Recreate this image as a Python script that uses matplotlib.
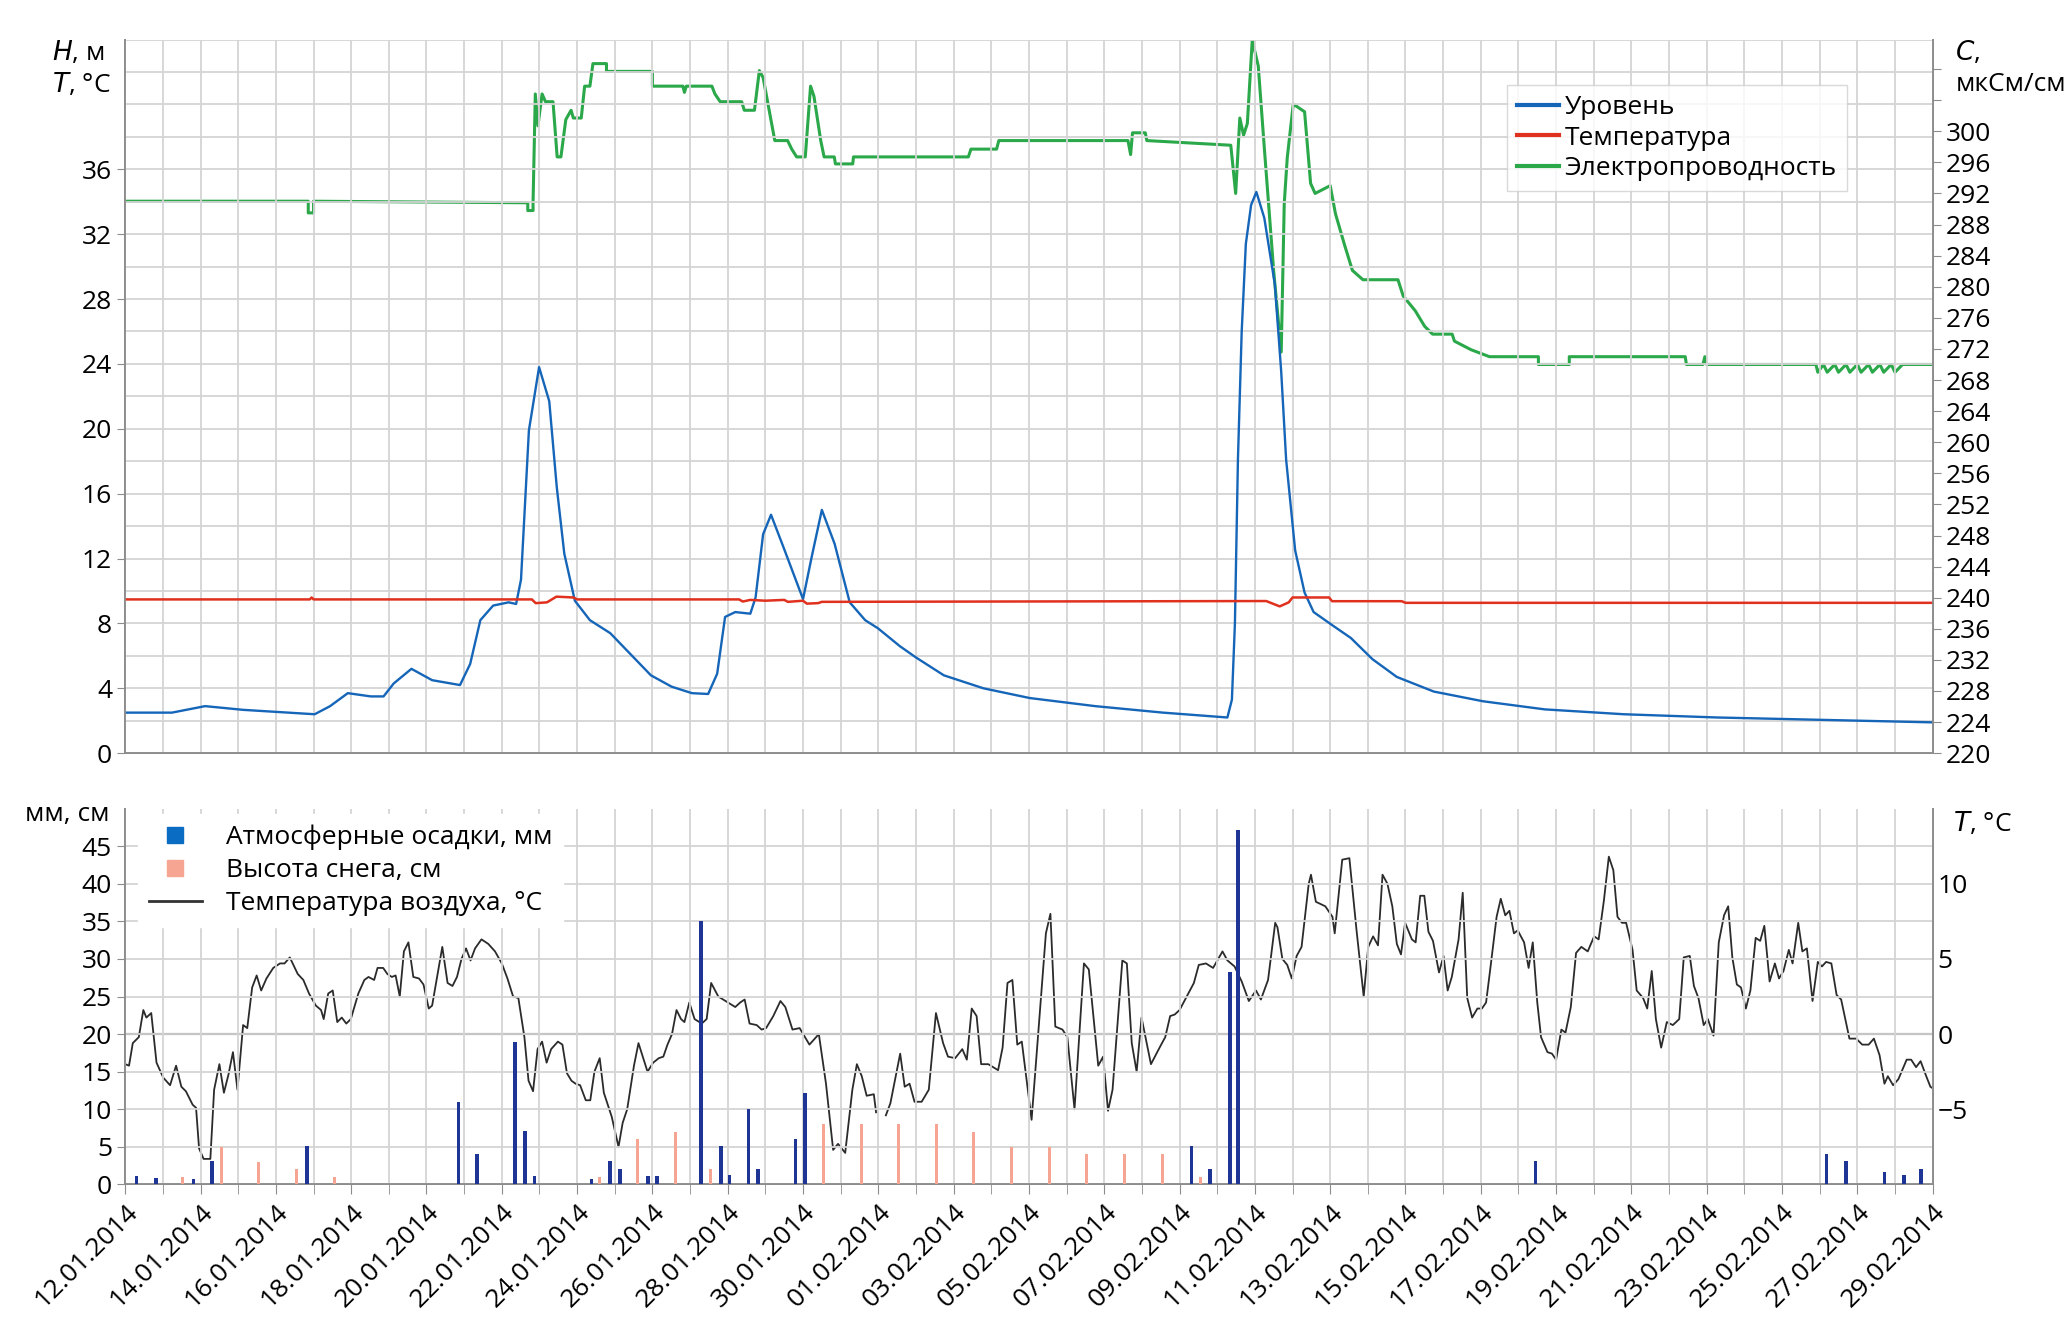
import numpy as np
import matplotlib
matplotlib.use("Agg")
import matplotlib.pyplot as plt
from matplotlib.lines import Line2D
from matplotlib.ticker import MultipleLocator, FixedLocator, FuncFormatter

plt.rcParams['font.family'] = ['Open Sans', 'DejaVu Sans']
plt.rcParams['mathtext.fontset'] = 'dejavusans'

# ---- x axis (days since 12.01.2014) ----
tick_labels = ["12.01.2014", "14.01.2014", "16.01.2014", "18.01.2014", "20.01.2014",
               "22.01.2014", "24.01.2014", "26.01.2014", "28.01.2014", "30.01.2014",
               "01.02.2014", "03.02.2014", "05.02.2014", "07.02.2014", "09.02.2014",
               "11.02.2014", "13.02.2014", "15.02.2014", "17.02.2014", "19.02.2014",
               "21.02.2014", "23.02.2014", "25.02.2014", "27.02.2014", "29.02.2014"]
tick_days = list(range(0, 49, 2))

# ---- top panel: water level H (m) ----
level_days = [0.0, 1.24, 2.12, 3.14, 5.03, 5.44, 5.91, 6.52, 6.86, 7.13, 7.6, 8.15, 8.89, 9.16,
              9.43, 9.77, 10.18, 10.38, 10.51, 10.72, 10.99, 11.26, 11.46, 11.66, 11.94, 12.34,
              12.88, 13.42, 13.96, 14.51, 15.05, 15.48, 15.72, 15.93, 16.2, 16.6, 16.74, 16.94,
              17.15, 17.48, 18.0, 18.23, 18.5, 18.84, 19.24, 19.65, 19.99, 20.57, 21.0, 21.74,
              22.79, 24.02, 25.76, 27.56, 29.27, 29.39, 29.47, 29.55, 29.65, 29.76, 29.9, 30.04,
              30.25, 30.53, 30.7, 30.83, 31.07, 31.32, 31.56, 32.05, 32.55, 33.12, 33.77, 34.75,
              36.06, 37.7, 39.8, 42.28, 48.0]
level_vals = [2.5, 2.5, 2.9, 2.67, 2.4, 2.9, 3.7, 3.5, 3.5, 4.3, 5.2, 4.5, 4.2, 5.5,
              8.2, 9.1, 9.3, 9.2, 10.7, 19.9, 23.8, 21.7, 16.4, 12.3, 9.4, 8.2,
              7.4, 6.1, 4.8, 4.1, 3.7, 3.65, 4.9, 8.4, 8.7, 8.6, 9.6, 13.5,
              14.7, 12.7, 9.5, 12.1, 15.0, 12.9, 9.3, 8.2, 7.7, 6.6, 5.9, 4.8,
              4.0, 3.4, 2.9, 2.5, 2.2, 3.3, 8.0, 18.1, 26.0, 31.4, 33.8, 34.6,
              33.0, 28.9, 23.5, 18.1, 12.5, 9.9, 8.7, 7.9, 7.1, 5.8, 4.7, 3.8,
              3.2, 2.7, 2.4, 2.2, 1.9]

# ---- top panel: water temperature T (°C) ----
wtemp_days = [0, 4.9, 4.95, 5.0, 10.8, 10.9, 11.2, 11.45, 11.9, 12.0, 16.3, 16.4, 16.6, 17.0,
              17.5, 17.6, 18.0, 18.1, 18.4, 18.5, 30.3, 30.66, 30.9, 31.0, 31.97, 32.05,
              33.9, 34.0, 48.0]
wtemp_vals = [9.48, 9.48, 9.6, 9.48, 9.48, 9.25, 9.3, 9.65, 9.6, 9.48, 9.48, 9.35, 9.45, 9.4,
              9.45, 9.33, 9.4, 9.22, 9.25, 9.33, 9.38, 9.05, 9.3, 9.6, 9.6, 9.37,
              9.37, 9.27, 9.27]

# ---- top panel: conductivity C (uS/cm) ----
cond_days = [0, 4.86, 4.86, 5.0, 5.0, 10.69, 10.69, 10.83, 10.83, 10.89, 10.96, 11.07, 11.16,
             11.36, 11.47, 11.57, 11.70, 11.84, 11.90, 12.11, 12.20, 12.34, 12.42, 12.78, 12.78,
             14.0, 14.0, 14.81, 14.85, 14.9, 15.58, 15.66, 15.80, 16.37, 16.44, 16.71, 16.84,
             16.94, 17.25, 17.59, 17.7, 17.83, 18.06, 18.20, 18.29, 18.47, 18.56, 18.83, 18.86,
             19.32, 19.34, 22.39, 22.46, 23.14, 23.2, 26.63, 26.7, 26.75, 27.09, 27.13, 29.36,
             29.49, 29.6, 29.7, 29.8, 29.93, 30.09, 30.25, 30.5, 30.7, 30.78, 30.86, 31.02,
             31.32, 31.48, 31.6, 32.0, 32.14, 32.38, 32.59, 32.87, 33.8, 33.94, 34.26, 34.51,
             34.72, 35.24, 35.3, 35.74, 36.23, 37.53, 37.53, 38.35, 38.35, 41.43, 41.46, 41.9,
             41.95, 42.0, 44.9, 44.95, 45.1, 45.2, 45.4, 45.5, 45.7, 45.8, 46.0, 46.1, 46.3,
             46.4, 46.6, 46.7, 46.9, 47.0, 47.2, 47.3, 48.0]
cond_vals = [291, 291, 289.5, 289.5, 291, 290.8, 289.8, 289.8, 290.8, 304.8, 300.7, 304.8, 303.8,
             303.8, 296.7, 296.7, 301.5, 302.7, 301.7, 301.7, 305.8, 305.8, 308.7, 308.7, 307.7,
             307.7, 305.8, 305.8, 305.0, 305.8, 305.8, 304.8, 303.8, 303.8, 302.7, 302.7, 307.8,
             306.9, 298.8, 298.8, 297.7, 296.7, 296.7, 305.8, 304.5, 298.8, 296.7, 296.7, 295.8,
             295.8, 296.7, 296.7, 297.7, 297.7, 298.8, 298.8, 297.0, 299.8, 299.8, 298.8, 298.2,
             292.0, 301.7, 299.5, 301.0, 311.7, 308.4, 297.9, 282.0, 271.6, 290.7, 296.6, 303.5,
             302.5, 293.3, 292.0, 293.0, 289.4, 285.4, 282.1, 280.9, 280.9, 278.8, 276.9, 274.9,
             273.9, 273.9, 273.0, 271.9, 271.0, 271.0, 270.0, 270.0, 271.0, 271.0, 270.0, 270.0,
             271.0, 270.0, 270.0, 269.0, 270.0, 269.0, 270.0, 269.0, 270.0, 269.0, 270.0, 269.0,
             270.0, 269.0, 270.0, 269.0, 270.0, 269.0, 270.0, 270.0, 270.0]

# ---- bottom panel: precipitation (mm) and snow depth (cm) ----
precip_days = [0.30, 0.81, 1.81, 2.31, 4.82, 8.85, 9.35, 10.36, 10.61, 10.87, 12.38, 12.88, 13.13,
               13.88, 14.13, 15.3, 15.82, 16.05, 16.55, 16.81, 17.80, 18.06, 28.32, 28.81, 29.33,
               29.56, 37.45, 45.18, 45.7, 46.72, 47.24, 47.70]
precip_vals = [1.1, 0.9, 0.7, 3.1, 5.1, 11, 4.1, 19, 7.1, 1.1, 0.75, 3.1, 2.1,
               1.1, 1.1, 35, 5.1, 1.2, 10.1, 2.1, 6.1, 12.1, 5.1, 2.1, 28.2,
               47.2, 3.1, 4.1, 3.1, 1.6, 1.2, 2.1]
snow_days = [1.52, 2.55, 3.55, 4.55, 5.55, 12.6, 13.6, 14.6, 15.53, 18.55, 19.54, 20.54, 21.54,
             22.54, 23.53, 24.54, 25.54, 26.54, 27.54, 28.55]
snow_vals = [1, 5, 3, 2, 1, 1, 6, 7, 2, 8, 8, 8, 8, 7, 5, 5, 4, 4, 4, 1]

# ---- bottom panel: air temperature (°C) ----
air_days = [0.00, 0.10, 0.20, 0.36, 0.48, 0.56, 0.69, 0.83, 1.01, 1.19, 1.35, 1.49, 1.61, 1.79,
            1.88, 1.96, 2.08, 2.26, 2.36, 2.50, 2.62, 2.74, 2.86, 2.98, 3.13, 3.24, 3.37, 3.49,
            3.61, 3.75, 3.93, 4.11, 4.23, 4.37, 4.58, 4.73, 4.88, 5.06, 5.20, 5.27, 5.39, 5.51,
            5.63, 5.75, 5.87, 5.99, 6.19, 6.35, 6.46, 6.61, 6.70, 6.85, 6.96, 7.08, 7.18, 7.29,
            7.40, 7.52, 7.65, 7.80, 7.92, 8.06, 8.15, 8.31, 8.42, 8.56, 8.69, 8.81, 8.93, 9.05,
            9.17, 9.29, 9.46, 9.64, 9.82, 10.00, 10.15, 10.30, 10.44, 10.60, 10.71, 10.83, 10.95,
            11.07, 11.19, 11.31, 11.49, 11.61, 11.73, 11.85, 11.96, 12.08, 12.23, 12.35, 12.46,
            12.60, 12.71, 12.92, 13.10, 13.21, 13.33, 13.51, 13.63, 13.77, 13.87, 14.02, 14.17,
            14.29, 14.40, 14.52, 14.64, 14.76, 14.85, 14.98, 15.12,
            15.31, 15.44, 15.56, 15.75, 16.01, 16.20, 16.33, 16.45, 16.58, 16.77, 16.90, 17.02,
            17.21, 17.40, 17.53, 17.72, 17.91, 18.17, 18.42, 18.61, 18.80, 18.93, 19.12, 19.31,
            19.43, 19.56, 19.69, 19.88, 19.94, 20.07, 20.20, 20.32, 20.58, 20.70, 20.83, 20.96,
            21.15, 21.34, 21.53, 21.72, 21.85, 22.04, 22.23, 22.35, 22.48, 22.61, 22.73, 22.92,
            23.18, 23.30, 23.43, 23.56, 23.69, 23.81, 24.07, 24.45, 24.57, 24.70, 24.89, 25.02,
            25.21, 25.46, 25.59, 25.84, 25.97, 26.10, 26.22, 26.48, 26.60, 26.73, 26.86, 26.99,
            27.24, 27.49, 27.62, 27.75, 27.87, 28.00, 28.19, 28.38, 28.51, 28.70, 28.89, 29.14,
            29.27, 29.46, 29.65, 29.84, 30.03, 30.16, 30.35, 30.54, 30.60, 30.73, 30.86, 30.98,
            31.11, 31.24, 31.43, 31.49, 31.62, 31.87, 32.06, 32.12, 32.32, 32.51, 32.70, 32.89,
            33.01, 33.14, 33.27, 33.39, 33.52, 33.65, 33.77,
            33.88, 33.99, 34.17, 34.27, 34.39, 34.50, 34.61, 34.73, 34.89, 35.01, 35.12, 35.23,
            35.41, 35.52, 35.64, 35.77, 35.91, 36.03, 36.14, 36.25, 36.42, 36.53, 36.65, 36.76,
            36.88, 36.98, 37.15, 37.27, 37.38, 37.50, 37.60, 37.77, 37.89, 38.00, 38.14, 38.25,
            38.39, 38.53, 38.67, 38.84, 39.01, 39.13, 39.27, 39.40, 39.52, 39.63, 39.75, 39.86,
            40.03, 40.14, 40.31, 40.42, 40.54, 40.65, 40.79, 40.94, 41.10, 41.27, 41.39, 41.55,
            41.66, 41.78, 41.92, 42.03, 42.18, 42.32, 42.46, 42.57, 42.68, 42.80, 42.91, 43.04,
            43.16, 43.30, 43.42, 43.53, 43.67, 43.81, 43.92, 44.04, 44.18, 44.28, 44.43, 44.54,
            44.66, 44.81, 44.95, 45.06, 45.17, 45.31, 45.45, 45.57, 45.68, 45.79, 45.97, 46.13,
            46.30, 46.44, 46.59, 46.72, 46.81, 46.95, 47.09, 47.31, 47.43, 47.56, 47.68, 47.83,
            47.94, 48.0]
air_vals = [-2.0, -2.1, -0.6, -0.2, 1.6, 1.1, 1.4, -1.9, -2.9, -3.4, -2.1, -3.5, -3.8, -4.7,
            -4.9, -7.6, -8.3, -8.3, -3.7, -2.0, -3.9, -2.7, -1.2, -3.7, 0.6, 0.4, 3.1, 3.9,
            2.9, 3.7, 4.4, 4.7, 4.7, 5.1, 4.0, 3.6, 2.7, 1.9, 1.6, 1.0, 2.7, 2.9,
            0.8, 1.1, 0.7, 1.0, 2.7, 3.6, 3.8, 3.6, 4.4, 4.4, 4.0, 3.8, 3.9, 2.5,
            5.5, 6.1, 3.8, 3.7, 3.3, 1.7, 1.9, 4.2, 5.8, 3.4, 3.2, 3.8, 5.0, 5.7,
            4.9, 5.7, 6.3, 6.0, 5.5, 4.7, 3.7, 2.5, 2.4, -0.2, -3.1, -3.8, -1.0,
            -0.5, -1.9, -1.0, -0.5, -0.7, -2.6, -3.1, -3.3, -3.4, -4.4, -4.4, -2.5,
            -1.6, -3.9, -5.5, -7.5, -5.9, -5.0, -2.1, -0.6, -1.7, -2.5, -1.9, -1.6,
            -1.5, -0.7, 0.0, 1.6, 1.0, 0.8, 2.1, 1.0,
            0.7, 1.0, 3.4, 2.5, 2.1, 1.8, 2.1, 2.3, 0.7, 0.6, 0.3, 0.4,
            1.2, 2.2, 1.8, 0.3, 0.4, -0.7, 0.0, -3.3, -7.7, -7.3, -7.9, -3.7,
            -2.0, -2.8, -4.1, -4.0, -5.2, np.nan, -5.4, -4.6, -1.3, -3.5, -3.3, -4.5,
            -4.5, -3.7, 1.4, -0.6, -1.5, -1.6, -1.0, -1.7, 1.7, 1.2, -2.0, -2.0,
            -2.4, -0.9, 3.4, 3.6, -0.7, -0.5, -5.7, 6.7, 8.0, 0.5, 0.3, -0.2,
            -5.0, 4.7, 4.3, -2.1, -1.5, -5.1, -3.7, 4.9, 4.7, -0.6, -2.5, 1.1,
            -2.0, -0.8, -0.2, 1.2, 1.3, 1.6, 2.5, 3.4, 4.6, 4.7, 4.4, 5.5,
            4.9, 4.5, 3.5, 2.2, 2.9, 2.3, 3.6, 7.4, 7.1, 5.0, 4.6, 3.7,
            5.2, 5.8, 10.0, 10.6, 8.8, 8.5, 7.8, 6.7, 11.6, 11.7, 6.9, 2.5,
            5.8, 6.5, 5.9, 10.6, 10.0, 8.5, 6.0,
            5.3, 7.4, 6.3, 6.1, 9.2, 9.2, 6.8, 6.2, 4.1, 5.2, 2.9, 3.8,
            6.3, 9.4, 2.4, 1.1, 1.7, 1.7, 2.1, 4.3, 7.8, 9.0, 7.9, 8.2,
            6.7, 6.9, 6.1, 4.4, 6.1, 2.1, -0.2, -1.2, -1.3, -1.7, 0.3, 0.1,
            1.8, 5.4, 5.8, 5.5, 6.5, 6.3, 8.9, 11.8, 10.9, 7.8, 7.4, 7.4,
            5.6, 2.9, 2.4, 1.7, 4.2, 1.0, -0.9, 0.8, 0.6, 1.0, 5.1, 5.2,
            3.2, 2.4, 0.6, 1.0, -0.1, 6.1, 7.9, 8.5, 5.1, 3.3, 3.1, 1.7,
            2.9, 6.4, 6.2, 7.2, 3.5, 4.7, 3.7, 4.2, 5.6, 4.7, 7.4, 5.5,
            5.7, 2.2, 4.8, 4.5, 4.8, 4.7, 2.6, 2.3, 1.0, -0.3, -0.3, -0.7,
            -0.7, -0.3, -1.4, -3.3, -2.8, -3.4, -3.0, -1.7, -1.7, -2.2, -1.8, -2.8,
            -3.5, -3.6]

FS = 19
GRID = '#d4d4d4'
AXC = '#8c8c8c'

fig = plt.figure(figsize=(20.67, 13.44), dpi=100)

# ================= TOP PANEL =================
ax = fig.add_axes([0.0606, 0.4396, 0.8744, 0.5310])
ax2 = ax.twinx()
ax.set_xlim(0, 48)
ax.set_ylim(0, 44)
ax2.set_ylim(220, 311.8)
ax.xaxis.set_major_locator(MultipleLocator(1))
ax.set_xticklabels([])
ax.tick_params(axis='x', length=0)
ax.yaxis.set_major_locator(FixedLocator(list(range(0, 37, 4))))
ax.yaxis.set_minor_locator(MultipleLocator(2))
ax.grid(True, which='major', color=GRID, lw=1.3)
ax.grid(True, which='minor', axis='y', color=GRID, lw=1.3)
ax.tick_params(axis='y', which='major', labelsize=FS, length=6, color=AXC)
ax.tick_params(axis='y', which='minor', length=0)
ax2.yaxis.set_major_locator(MultipleLocator(4))
ax2.yaxis.set_major_formatter(FuncFormatter(lambda v, p: f"{v:.0f}" if v <= 300.5 else ""))
ax2.tick_params(axis='y', labelsize=FS, length=6, color=AXC)
for a in (ax, ax2):
    a.spines['top'].set_visible(False)
    for s in ('left', 'right', 'bottom'):
        a.spines[s].set_color(AXC)
        a.spines[s].set_linewidth(1.3)

l1, = ax.plot(level_days, level_vals, color='#1565b8', lw=1.7, label='Уровень')
l2, = ax.plot(wtemp_days, wtemp_vals, color='#e0301e', lw=1.8, label='Температура')
l3, = ax2.plot(cond_days, cond_vals, color='#2aa84a', lw=2.2, label='Электропроводность')
ax.set_zorder(ax2.get_zorder() + 1)
ax.patch.set_visible(False)
leg = ax.legend(handles=[l1, l2, l3], loc='upper left', bbox_to_anchor=(0.757, 0.955),
                fontsize=FS, frameon=True, fancybox=False, handlelength=1.6,
                handletextpad=0.2, borderpad=0.4, labelspacing=0.2)
leg.get_frame().set_edgecolor('#d0d0d0')
for h in leg.legend_handles:
    h.set_linewidth(3)

fig.text(0.025, 0.961, '$H$, м', fontsize=FS, va='center')
fig.text(0.025, 0.937, '$T$, °C', fontsize=FS, va='center')
fig.text(0.946, 0.961, '$C$,', fontsize=FS, va='center')
fig.text(0.946, 0.937, 'мкСм/см', fontsize=FS, va='center')

# ================= BOTTOM PANEL =================
bx = fig.add_axes([0.0606, 0.1187, 0.8744, 0.2797])
bx2 = bx.twinx()
bx.set_xlim(0, 48)
bx.set_ylim(0, 50)
bx2.set_ylim(-10, 15)
bx.xaxis.set_major_locator(FixedLocator(tick_days))
bx.xaxis.set_minor_locator(MultipleLocator(1))
bx.set_xticklabels(tick_labels, rotation=45, ha='right', rotation_mode='anchor', fontsize=FS)
bx.tick_params(axis='x', which='both', length=7, color=AXC, direction='out')
bx.yaxis.set_major_locator(FixedLocator(list(range(0, 46, 5))))
bx.grid(True, which='both', axis='x', color=GRID, lw=1.3)
bx.grid(True, which='major', axis='y', color=GRID, lw=1.3)
bx.tick_params(axis='y', labelsize=FS, length=6, color=AXC)
bx2.yaxis.set_major_locator(FixedLocator([-5, 0, 5, 10]))
bx2.tick_params(axis='y', labelsize=FS, length=0)
for a in (bx, bx2):
    a.spines['top'].set_visible(False)
    for s in ('left', 'right', 'bottom'):
        a.spines[s].set_color(AXC)
        a.spines[s].set_linewidth(1.3)

bx2.axhline(0, color='#444444', lw=1.5)
bx2.plot(air_days, air_vals, color='#2b2b2b', lw=1.3)
bx.bar(snow_days, snow_vals, width=0.08, color='#f5a591', zorder=3)
bx.bar(precip_days, precip_vals, width=0.1, color='#1f3596', zorder=3)
bx.set_zorder(bx2.get_zorder() + 1)
bx.patch.set_visible(False)

handles = [Line2D([], [], marker='s', ls='none', color='#0a6cc2', markersize=11),
           Line2D([], [], marker='s', ls='none', color='#f5a591', markersize=11),
           Line2D([], [], color='#333333', lw=2)]
lg2 = bx.legend(handles, ['Атмосферные осадки, мм', 'Высота снега, см', 'Температура воздуха, °C'],
                loc='upper left', bbox_to_anchor=(0.0, 1.02), fontsize=FS, frameon=True,
                fancybox=False, handlelength=2.0, handletextpad=0.9, labelspacing=0.3)
lg2.get_frame().set_edgecolor('white')
lg2.get_frame().set_alpha(1)

fig.text(0.012, 0.394, 'мм, см', fontsize=FS, va='center')
fig.text(0.945, 0.387, '$T$, °C', fontsize=FS, va='center')

fig.savefig('out.png', dpi=100, facecolor='white')
